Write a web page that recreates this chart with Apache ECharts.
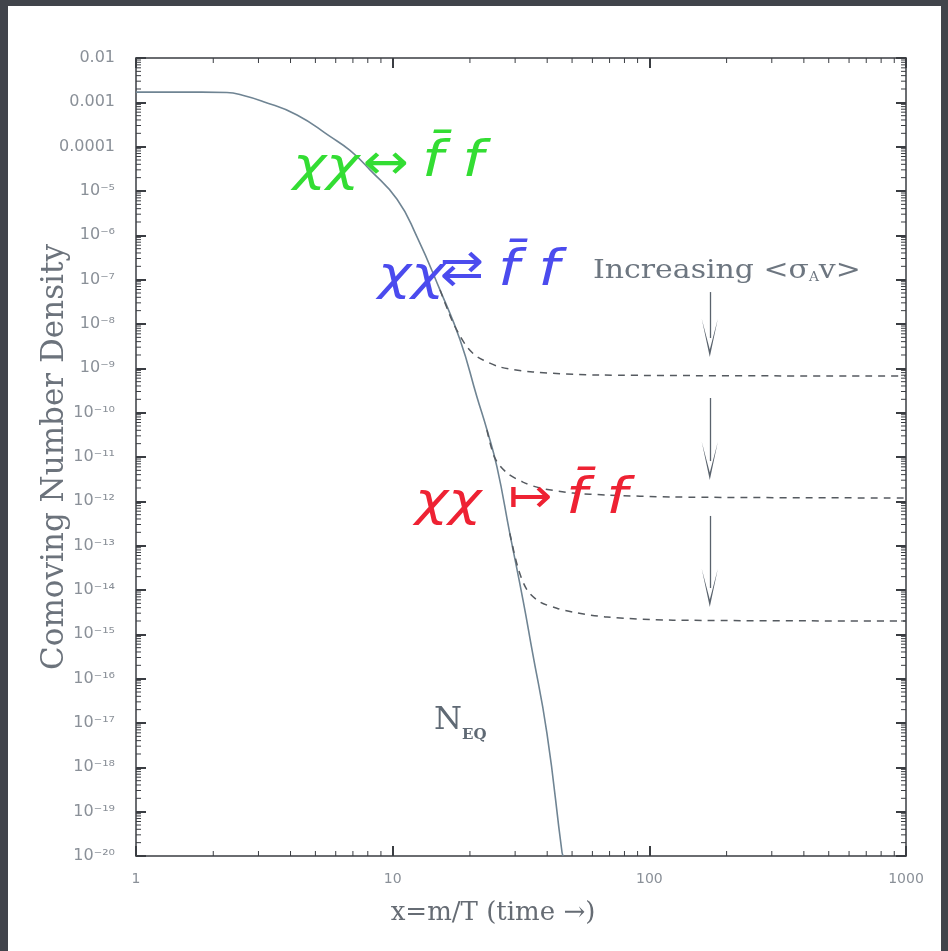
<!DOCTYPE html>
<html><head><meta charset="utf-8">
<script src="https://cdn.jsdelivr.net/npm/echarts@6/dist/echarts.min.js"></script>
<style>html,body{margin:0;padding:0;background:#41444b}#c{width:948px;height:951px}</style>
</head><body><div id="c"></div>
<script>
// Equilibrium curve N_EQ
const xEq = [1, 1.8, 2.26, 2.6, 3.12, 4.24, 5.70, 6.82, 8.16, 10.4, 12.4, 15.3, 18.3, 21.3, 23.3, 25.5, 28.6, 32.2, 34.9, 39.9, 45.7, 46.2];
const yEq = [1.7e-3, 1.7e-3, 1.66e-3, 1.45e-3, 1.05e-3, 5.2e-4, 1.7e-4, 8.2e-5, 3.0e-5, 6.5e-6, 9.6e-7, 5.8e-8, 4.4e-9, 2.25e-10, 4.1e-11, 5.9e-12, 1.9e-13, 5.9e-15, 4.5e-16, 5.9e-18, 1.2e-20, 1e-20];
// Freeze-out curves (dashed)
const xF1 = [15.3, 17.0, 18.3, 19.5, 20.9, 22.5, 26.2, 35.2, 64.2, 1000];
const yF1 = [5.85e-8, 1.23e-8, 5.36e-9, 3.03e-9, 2.0e-9, 1.54e-9, 1.07e-9, 8.26e-10, 7.06e-10, 6.71e-10];
const xF2 = [23.3, 25.0, 27.9, 32.2, 37.5, 50.4, 68.4, 123.7, 1000];
const yF2 = [4.07e-11, 9.55e-12, 4.35e-12, 2.72e-12, 2.0e-12, 1.54e-12, 1.39e-12, 1.25e-12, 1.19e-12];
const xF3 = [28.6, 30.8, 33.4, 37.5, 43.6, 50.4, 68.4, 123.7, 1000];
const yF3 = [1.9e-13, 3.13e-14, 1.0e-14, 5.37e-15, 3.89e-15, 3.16e-15, 2.45e-15, 2.09e-15, 2.0e-15];
// Tick labels
const xTickLabels = ['1', '10', '100', '1000'];           // exponents 0..3
const yTickLabels = ['10⁻²⁰','10⁻¹⁹','10⁻¹⁸','10⁻¹⁷','10⁻¹⁶','10⁻¹⁵','10⁻¹⁴','10⁻¹³','10⁻¹²','10⁻¹¹','10⁻¹⁰','10⁻⁹','10⁻⁸','10⁻⁷','10⁻⁶','10⁻⁵','0.0001','0.001','0.01']; // exponents -20..-2
const minorMultipliers = [2, 3, 4, 5, 6, 7, 8, 9];
const xDecades = [1, 10, 100];
const yDecadeExps = [-20,-19,-18,-17,-16,-15,-14,-13,-12,-11,-10,-9,-8,-7,-6,-5,-4,-3];

const X_MIN = 1, X_MAX = 1000, Y_MIN = 1e-20, Y_MAX = 0.01;
const pairs = (xs, ys) => xs.map((x, i) => [x, ys[i]]);

const xMinor = [];
xDecades.forEach(d => minorMultipliers.forEach(m => xMinor.push([d * m, Y_MIN])));
const yMinor = [];
yDecadeExps.forEach(e => minorMultipliers.forEach(m => yMinor.push([X_MIN, m * Math.pow(10, e)])));

const AX = '#3a3d42';
const chart = echarts.init(document.getElementById('c'));

function tickSeries(data, vertical) {
  return {
    type: 'custom', data: data, silent: true, z: 5, clip: false,
    renderItem: function (params, api) {
      const v = vertical ? api.value(1) : api.value(0);
      let a, b;
      if (!vertical) { a = api.coord([v, Y_MIN]); b = api.coord([v, Y_MAX]); }
      else { a = api.coord([X_MIN, v]); b = api.coord([X_MAX, v]); }
      const L = 5;
      const st = { stroke: AX, lineWidth: 1 };
      if (!vertical) {
        return { type: 'group', children: [
          { type: 'line', shape: { x1: a[0], y1: a[1], x2: a[0], y2: a[1] - L }, style: st },
          { type: 'line', shape: { x1: b[0], y1: b[1], x2: b[0], y2: b[1] + L }, style: st }
        ]};
      }
      return { type: 'group', children: [
        { type: 'line', shape: { x1: a[0], y1: a[1], x2: a[0] + L, y2: a[1] }, style: st },
        { type: 'line', shape: { x1: b[0], y1: b[1], x2: b[0] - L, y2: b[1] }, style: st }
      ]};
    }
  };
}

const axisCommon = {
  axisLine: { show: true, lineStyle: { color: AX, width: 1.5 } },
  axisTick: { show: true, inside: true, length: 10, lineStyle: { color: AX, width: 2 } },
  splitLine: { show: false }
};

const arrowSym = 'path://M9,0 L18,40 L9,8 L0,40 Z';
const eqColor = '#6f8493';
const dashStyle = { color: '#555a60', width: 1.5, type: [7, 6] };

function piece(text, x, y, size, color, italic, sx) {
  return { type: 'text', x: x, y: y, scaleX: sx || 1, z: 20,
    style: { text: text, verticalAlign: 'middle', fill: color,
      font: (italic ? 'italic ' : '') + size + 'px "DejaVu Sans"' } };
}
const G = '#33dd33', B = '#4b4bee', R = '#ee2233';

const option = {
  backgroundColor: '#41444b',
  animation: false,
  graphic: [
    { type: 'rect', shape: { x: 8, y: 6, width: 933, height: 945 }, style: { fill: '#ffffff' }, z: -10 },
    piece('χχ', 293, 168, 46, G, true, 1.22),
    piece('↔', 363, 166, 50, G, false, 1.1),
    piece('f̄ f', 422, 163, 50, G, true, 1.2),
    piece('χχ', 378, 277, 46, B, true, 1.22),
    piece('⇄', 440, 272, 48, B, false, 1.1),
    piece('f̄ f', 498, 272, 50, B, true, 1.2),
    piece('χχ', 415, 503, 46, R, true, 1.22),
    piece('↦', 508, 500, 48, R, false, 1.1),
    piece('f̄ f', 566, 500, 50, R, true, 1.2),
    { type: 'text', x: 593, y: 271, scaleX: 1.15, z: 20, style: { text: 'Increasing <σ{s|A}v>', verticalAlign: 'middle',
        font: '26px "DejaVu Serif"', fill: '#6d7680',
        rich: { s: { fontSize: 12, fontFamily: 'DejaVu Serif', fill: '#6d7680', padding: [14, 0, 0, 0] } } } },
    { type: 'text', x: 434, y: 721, z: 20, style: { text: 'N{s|EQ}', verticalAlign: 'middle',
        font: '32px "DejaVu Serif"', fill: '#5f6974',
        rich: { s: { fontSize: 15, fontWeight: 'bold', fontFamily: 'DejaVu Serif', fill: '#5f6974', padding: [28, 0, 0, 0] } } } }
  ],
  grid: { left: 136, right: 42, top: 58, bottom: 95 },
  xAxis: [
    Object.assign({}, axisCommon, {
      type: 'log', logBase: 10, min: X_MIN, max: X_MAX, interval: 1, position: 'bottom',
      axisLabel: { margin: 16, color: '#8a9098', fontSize: 14, fontFamily: 'DejaVu Sans',
        formatter: v => xTickLabels[Math.round(Math.log10(v))] },
      name: 'x=m/T (time →)', nameLocation: 'middle', nameGap: 44, nameMoveOverlap: false,
      nameTextStyle: { fontFamily: 'DejaVu Serif', fontSize: 26, color: '#666c74', padding: [0, 56, 0, 0] }
    }),
    Object.assign({}, axisCommon, {
      type: 'log', logBase: 10, min: X_MIN, max: X_MAX, interval: 1, position: 'top',
      axisLabel: { show: false }
    })
  ],
  yAxis: [
    Object.assign({}, axisCommon, {
      type: 'log', logBase: 10, min: Y_MIN, max: Y_MAX, interval: 1, position: 'left',
      axisLabel: { margin: 21, color: '#8a9098', fontSize: 16, fontFamily: 'DejaVu Sans',
        formatter: v => yTickLabels[Math.round(Math.log10(v)) + 20] },
      name: 'Comoving Number Density', nameLocation: 'middle', nameGap: 66, nameRotate: 90, nameMoveOverlap: false,
      nameTextStyle: { fontFamily: 'DejaVu Serif', fontSize: 31, color: '#6c737c' }
    }),
    Object.assign({}, axisCommon, {
      type: 'log', logBase: 10, min: Y_MIN, max: Y_MAX, interval: 1, position: 'right',
      axisLabel: { show: false }
    })
  ],
  series: [
    { type: 'line', name: 'NEQ', data: pairs(xEq, yEq), showSymbol: false, smooth: 0.5,
      lineStyle: { color: eqColor, width: 1.6 }, z: 3 },
    { type: 'line', name: 'F1', data: pairs(xF1, yF1), showSymbol: false, smooth: 0.3,
      lineStyle: dashStyle, z: 4,
      markLine: { silent: true, symbol: ['none', arrowSym], symbolSize: [16, 38],
        lineStyle: { color: '#5a636d', width: 1.3, type: 'solid' }, label: { show: false },
        data: [
          [{ coord: [172, 5.25e-8] }, { coord: [172, 4.83e-9] }],
          [{ coord: [172, 2.14e-10] }, { coord: [172, 8.1e-12] }],
          [{ coord: [172, 4.68e-13] }, { coord: [172, 1.11e-14] }]
        ] } },
    { type: 'line', name: 'F2', data: pairs(xF2, yF2), showSymbol: false, smooth: 0.3,
      lineStyle: dashStyle, z: 4 },
    { type: 'line', name: 'F3', data: pairs(xF3, yF3), showSymbol: false, smooth: 0.3,
      lineStyle: dashStyle, z: 4 },
    tickSeries(xMinor, false),
    tickSeries(yMinor, true)
  ]
};
chart.setOption(option);
</script>
</body></html>
